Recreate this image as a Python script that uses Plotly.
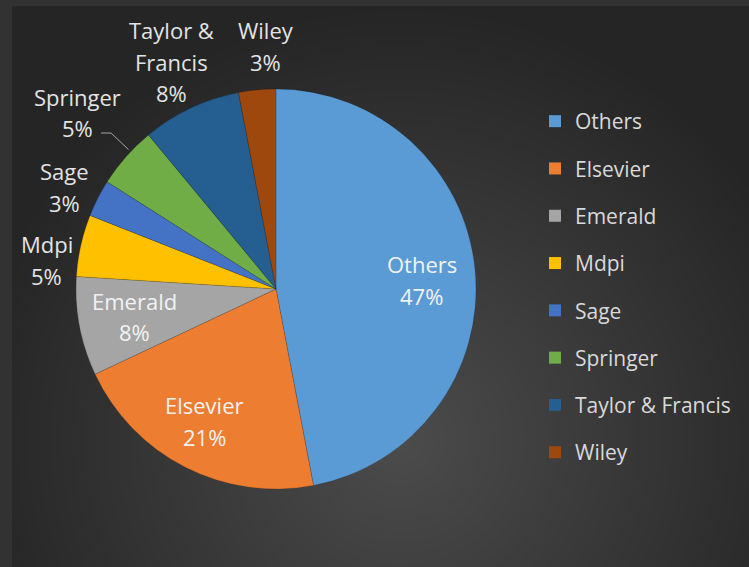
import base64, struct, zlib
import numpy as np
import plotly.graph_objects as go

# ---- data ----
publishers = ["Others", "Elsevier", "Emerald", "Mdpi", "Sage", "Springer", "Taylor & Francis", "Wiley"]
slice_text = ["Others", "Elsevier", "Emerald", "Mdpi", "Sage", "Springer", "Taylor &<br>Francis", "Wiley"]
shares = [47, 21, 8, 5, 3, 5, 8, 3]
colors = ["#5B9BD5", "#ED7D31", "#A5A5A5", "#FFC000", "#4472C4", "#70AD47", "#255E91", "#9E480E"]

# ---- layout parameters (positions / styles) ----
W, H = 749, 567
CX, CY, R = 276, 289, 200            # pie centre and radius in pixels
label_radius = [0.73, 0.75, 0.72, 1.155, 1.172, 1.33, 1.25, 1.215]   # x R
label_dangle = [1.9, 1.3, -0.2, -5.4, -1.2, 0.2, 0.6, 3.0]                # degrees
label_inside = [True, True, True, False, False, False, False, False]
leader_line = [False, False, False, False, False, True, False, False]
LINE_GAP = 31.5
font_family = "'Open Sans', Lato, sans-serif"


def make_bg():
    yy, xx = np.mgrid[0:H, 0:W].astype(float)
    d = np.sqrt((xx - 400) ** 2 + (yy - 440) ** 2)
    t = np.clip(d / 440.0, 0, 1)
    val = 76 * (1 - t) + 37 * t
    img = np.repeat(val[:, :, None], 3, axis=2)
    frame = (xx < 12) | (yy < 6)
    img[frame] = 50
    img = img.astype(np.uint8)
    raw = b"".join(b"\x00" + img[r].tobytes() for r in range(H))

    def chunk(tag, data):
        c = struct.pack(">I", len(data)) + tag + data
        return c + struct.pack(">I", zlib.crc32(tag + data) & 0xFFFFFFFF)

    png = b"\x89PNG\r\n\x1a\n" + chunk(b"IHDR", struct.pack(">IIBBBBB", W, H, 8, 2, 0, 0, 0)) \
        + chunk(b"IDAT", zlib.compress(raw, 9)) + chunk(b"IEND", b"")
    return "data:image/png;base64," + base64.b64encode(png).decode()


fig = go.Figure()
fig.add_trace(go.Pie(
    labels=publishers,
    values=shares,
    textinfo="none",
    sort=False,
    direction="clockwise",
    rotation=0,
    marker=dict(colors=colors, line=dict(color="rgba(0,0,0,0.25)", width=0.6)),
    showlegend=False,
    hoverinfo="label+percent",
    domain=dict(x=[(CX - R) / W, (CX + R) / W], y=[1 - (CY + R) / H, 1 - (CY - R) / H]),
))

# legend entries (one group per publisher for the wide spacing)
for name, col in zip(publishers, colors):
    fig.add_trace(go.Scatter(
        x=[None], y=[None], mode="markers", name=name, legendgroup=name,
        marker=dict(symbol="square", size=13, color=col),
        hoverinfo="skip",
    ))

# data labels placed around each slice's mid-angle (computed from the shares)
total = float(sum(shares))
annotations = []
shapes = []
cum = 0.0
for txt, v, k, da, inside, lead in zip(slice_text, shares, label_radius, label_dangle,
                                       label_inside, leader_line):
    mid = (cum + v / 2.0) / total * 2 * np.pi
    cum += v
    ang = mid + np.radians(da)
    px, py = CX + np.sin(ang) * R * k, CY - np.cos(ang) * R * k
    lines = txt.split("<br>") + [f"{round(100 * v / total):d}%"]
    n = len(lines)
    for i, line in enumerate(lines):
        ly = py + (i - (n - 1) / 2.0) * LINE_GAP
        annotations.append(dict(
            x=px / W, y=1 - ly / H, xref="paper", yref="paper",
            text=line, showarrow=False,
            font=dict(size=22, color="#F2F2F2" if inside else "#E3E3E3", family=font_family),
            xanchor="center", yanchor="middle", align="center",
        ))
    if lead:
        la = mid + np.radians(2.0)
        x0, y0 = CX + np.sin(la) * R * 1.015, CY - np.cos(la) * R * 1.015
        x1, y1 = CX + np.sin(la) * R * 1.135, CY - np.cos(la) * R * 1.135
        shapes.append(dict(
            type="path", xref="paper", yref="paper",
            path=f"M {x0 / W},{1 - y0 / H} L {x1 / W},{1 - y1 / H} L {(x1 - 10) / W},{1 - y1 / H}",
            line=dict(color="#A6A6A6", width=1),
        ))

fig.update_layout(
    width=W, height=H,
    margin=dict(l=0, r=0, t=0, b=0, autoexpand=False),
    paper_bgcolor="#333333",
    plot_bgcolor="rgba(0,0,0,0)",
    xaxis=dict(visible=False, fixedrange=True),
    yaxis=dict(visible=False, fixedrange=True),
    images=[dict(source=make_bg(), xref="paper", yref="paper", x=0, y=1,
                 sizex=1, sizey=1, xanchor="left", yanchor="top",
                 sizing="stretch", layer="below")],
    annotations=annotations,
    shapes=shapes,
    legend=dict(
        x=535 / W, y=1 - 101 / H, xanchor="left", yanchor="top",
        font=dict(color="#D9D9D9", size=21, family=font_family),
        bgcolor="rgba(0,0,0,0)", tracegroupgap=17,
        itemsizing="constant",
    ),
    font=dict(family=font_family),
)

fig.write_html("out.html")
